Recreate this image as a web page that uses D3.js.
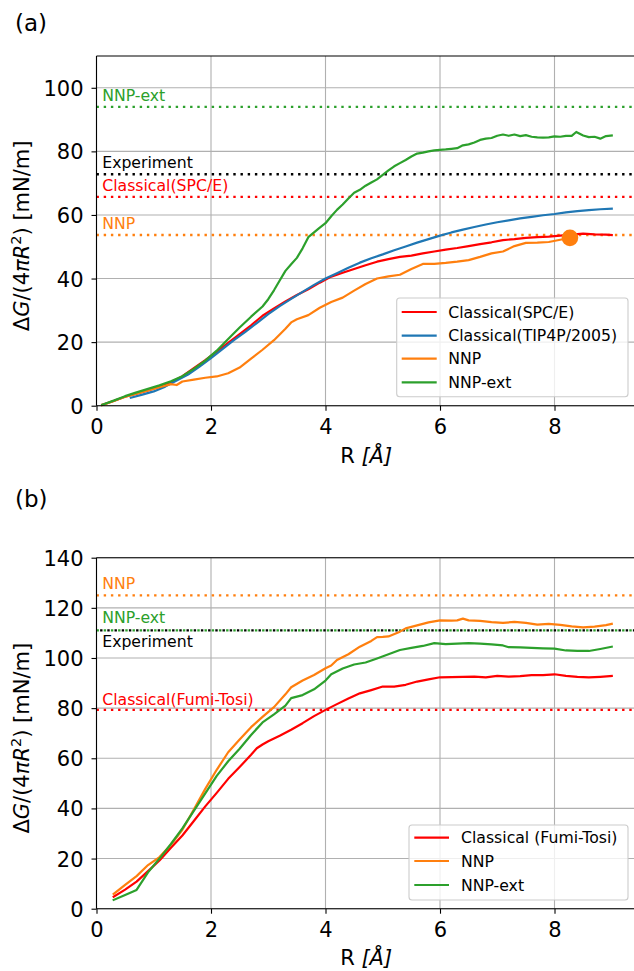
<!DOCTYPE html>
<html>
<head>
<meta charset="utf-8">
<script src="https://cdn.jsdelivr.net/npm/d3@7"></script>
<style>
  html, body { margin: 0; padding: 0; background: #fff; }
  svg { display: block; font-family: "DejaVu Sans", sans-serif; }
</style>
</head>
<body>
<svg id="fig" width="634" height="971"></svg>
<script>
// ---------- panel (a): water ----------
const spceR = [0.1,0.3,0.5,0.7,0.9,1.1,1.3,1.5,1.7,1.9,2.1,2.3,2.5,2.7,2.9,3.1,3.3,3.5,3.7,3.9,4.1,4.3,4.5,4.7,4.9,5.1,5.3,5.5,5.7,5.9,6.1,6.3,6.5,6.7,6.9,7.1,7.3,7.5,7.7,7.9,8.1,8.3,8.5,8.7,8.9,9.0];
const spceV = [0.3,1.5,2.8,3.8,4.8,6.0,7.3,9.3,11.8,14.3,17.0,19.8,22.5,25.3,28.3,30.6,32.8,34.8,36.6,38.7,40.6,41.8,43.0,44.2,45.3,46.1,46.8,47.2,47.9,48.5,49.1,49.6,50.2,50.8,51.4,52.1,52.4,52.8,53.0,53.2,53.5,53.8,54.1,53.9,53.8,53.7];

const tip4pR = [0.6,0.8,1.0,1.2,1.4,1.6,1.8,2.0,2.2,2.4,2.6,2.8,3.0,3.2,3.4,3.6,3.8,4.0,4.2,4.4,4.6,4.8,5.0,5.2,5.4,5.6,5.8,6.0,6.2,6.4,6.6,6.8,7.0,7.2,7.4,7.6,7.8,8.0,8.2,8.4,8.6,8.8,9.0];
const tip4pV = [2.5,3.5,4.5,6.0,7.9,9.8,12.3,15.0,17.8,20.6,23.2,26.0,28.8,31.3,33.6,35.8,38.0,40.0,41.7,43.4,45.0,46.4,47.6,48.9,50.1,51.3,52.4,53.5,54.5,55.4,56.2,57.0,57.7,58.3,58.9,59.4,59.9,60.3,60.8,61.2,61.5,61.8,62.0];

const nnpAR = [0.1,0.3,0.5,0.7,0.9,1.1,1.3,1.4,1.5,1.7,1.9,2.1,2.3,2.5,2.7,2.9,3.1,3.3,3.4,3.5,3.7,3.9,4.1,4.3,4.5,4.7,4.9,5.1,5.3,5.5,5.7,5.9,6.1,6.3,6.5,6.7,6.9,7.1,7.3,7.5,7.7,7.9,8.1,8.27];
const nnpAV = [0.2,1.5,2.8,3.8,4.8,5.8,6.8,6.5,7.6,8.2,8.8,9.2,10.2,12.0,14.8,17.6,20.6,24.2,26.2,27.2,28.5,30.8,32.6,34.0,36.2,38.3,40.0,40.7,41.2,43.0,44.6,44.6,44.9,45.3,45.8,46.8,47.9,48.5,50.2,51.2,51.3,51.5,52.2,52.8];
const nnpAMarker = [8.27, 52.8];

const nnpExtAR = [0.1,0.3,0.5,0.7,0.9,1.1,1.3,1.5,1.7,1.9,2.1,2.3,2.5,2.7,2.9,3.0,3.1,3.2,3.3,3.4,3.5,3.6,3.7,3.8,3.9,4.0,4.1,4.2,4.3,4.4,4.5,4.6,4.7,4.8,4.9,5.0,5.1,5.2,5.3,5.4,5.5,5.6,5.7,5.8,5.9,6.0,6.1,6.2,6.3,6.4,6.5,6.6,6.7,6.8,6.9,7.0,7.1,7.2,7.3,7.4,7.5,7.6,7.7,7.8,7.9,8.0,8.1,8.2,8.3,8.38,8.5,8.6,8.7,8.8,8.9,9.0];
const nnpExtAV = [0.3,1.6,3.0,4.2,5.3,6.4,7.7,9.3,11.6,14.2,17.3,21.0,24.6,28.0,31.2,33.5,36.3,39.4,42.4,44.5,46.5,49.5,53.0,54.5,56.0,57.4,59.6,61.6,63.3,65.2,67.0,67.9,69.2,70.2,71.2,72.6,74.0,75.3,76.3,77.3,78.4,79.3,79.6,80.0,80.3,80.5,80.6,80.8,81.0,81.9,82.2,82.8,83.6,84.0,84.2,84.9,85.3,84.9,85.3,84.8,85.1,84.6,84.4,84.3,84.4,84.7,84.6,84.9,84.9,86.1,85.0,84.5,84.6,84.0,84.8,85.0];

const refNamesA  = ["NNP-ext", "Experiment", "Classical(SPC/E)", "NNP"];
const refValuesA = [94.0, 72.8, 65.7, 53.7];
const legendNamesA = ["Classical(SPC/E)", "Classical(TIP4P/2005)", "NNP", "NNP-ext"];

// ---------- panel (b): salt ----------
const fumiR = [0.3,0.5,0.7,0.9,1.1,1.3,1.5,1.7,1.9,2.1,2.3,2.5,2.7,2.8,2.9,3.0,3.2,3.4,3.6,3.8,4.0,4.2,4.4,4.6,4.8,5.0,5.2,5.4,5.6,5.8,6.0,6.2,6.4,6.6,6.8,7.0,7.2,7.4,7.6,7.8,8.0,8.2,8.4,8.6,8.8,9.0];
const fumiV = [4.8,7.6,10.8,15.0,19.2,24.3,29.2,35.0,40.8,46.2,51.8,56.5,61.4,64.0,65.5,66.8,69.0,71.4,74.0,76.8,79.3,81.6,83.8,85.9,87.2,88.6,88.6,89.3,90.6,91.5,92.3,92.4,92.5,92.6,92.3,92.9,92.6,92.8,93.2,93.2,93.5,92.9,92.5,92.3,92.5,92.8];

const nnpBR = [0.3,0.5,0.7,0.9,1.1,1.3,1.5,1.7,1.9,2.1,2.3,2.5,2.7,2.9,3.1,3.3,3.4,3.6,3.8,4.0,4.1,4.2,4.4,4.6,4.8,4.9,5.0,5.1,5.3,5.4,5.6,5.8,6.0,6.2,6.3,6.4,6.5,6.7,6.9,7.1,7.3,7.5,7.7,7.9,8.1,8.3,8.5,8.7,8.9,9.0];
const nnpBV = [5.9,9.5,13.0,17.4,20.6,25.5,31.5,39.5,47.8,55.4,62.4,67.5,72.4,76.5,80.4,85.5,88.3,91.0,93.2,95.9,97.0,99.2,101.5,104.5,106.8,108.3,108.4,108.6,110.5,111.8,113.0,114.2,115.0,114.9,115.0,115.7,115.0,114.8,114.3,114.0,114.4,114.0,113.3,113.6,113.2,112.6,112.2,112.5,113.1,113.6];

const nnpExtBR = [0.3,0.5,0.7,0.9,1.1,1.3,1.5,1.7,1.9,2.1,2.3,2.5,2.7,2.9,3.1,3.3,3.4,3.6,3.8,4.0,4.1,4.3,4.5,4.7,4.9,5.1,5.3,5.5,5.7,5.9,6.1,6.3,6.5,6.7,6.9,7.1,7.2,7.4,7.6,7.8,8.0,8.2,8.4,8.6,8.8,9.0];
const nnpExtBV = [3.5,5.5,7.5,14.5,20.0,25.8,32.0,39.0,46.0,53.0,58.8,63.8,69.3,74.3,77.5,81.0,84.0,85.2,87.5,91.0,93.5,95.8,97.4,98.2,99.8,101.5,103.2,104.0,104.8,105.9,105.5,105.7,105.9,105.7,105.4,105.0,104.3,104.2,104.0,103.8,103.7,103.0,102.8,102.8,103.6,104.5];

const refNamesB  = ["NNP", "NNP-ext", "Experiment", "Classical(Fumi-Tosi)"];
const refValuesB = [125.0, 111.0, 111.0, 79.3];
const legendNamesB = ["Classical (Fumi-Tosi)", "NNP", "NNP-ext"];

const xTicks = [0, 2, 4, 6, 8];
const yTicksA = [0, 20, 40, 60, 80, 100];
const yTicksB = [0, 20, 40, 60, 80, 100, 120, 140];

// ---------- drawing ----------
const RED = "#ff0000", BLUE = "#1f77b4", ORANGE = "#ff7f0e", GREEN = "#2ca02c", BLACK = "#000000";
const svg = d3.select("#fig");
const FS_TICK = 21, FS_SMALL = 15.7;

function zip(xs, ys) { return xs.map((x, i) => [x, ys[i]]); }

function drawPanel(cfg) {
  const x = d3.scaleLinear().domain([0, 9.42]).range([96.5, 635.8]);
  const y = d3.scaleLinear().domain(cfg.yDomain).range([cfg.bottom, cfg.top]);
  const g = svg.append("g");

  // grid
  g.append("g").selectAll("line").data(xTicks).join("line")
    .attr("x1", d => x(d)).attr("x2", d => x(d))
    .attr("y1", cfg.top).attr("y2", cfg.bottom)
    .attr("stroke", "#b0b0b0").attr("stroke-width", 1.1);
  g.append("g").selectAll("line").data(cfg.yTicks).join("line")
    .attr("x1", x.range()[0]).attr("x2", x.range()[1])
    .attr("y1", d => y(d)).attr("y2", d => y(d))
    .attr("stroke", "#b0b0b0").attr("stroke-width", 1.1);

  // reference levels
  cfg.refs.forEach(r => {
    g.append("line")
      .attr("x1", x.range()[0]).attr("x2", x.range()[1])
      .attr("y1", y(r.value)).attr("y2", y(r.value))
      .attr("stroke", r.color).attr("stroke-width", 2.3)
      .attr("stroke-dasharray", "2.4,4.8")
      .attr("stroke-dashoffset", r.phase || 0);
  });
  cfg.refs.forEach(r => {
    g.append("text")
      .attr("x", x(0.1)).attr("y", y(r.value) + r.dy)
      .attr("fill", r.color).attr("font-size", FS_SMALL)
      .text(r.name);
  });

  // curves
  const line = d3.line().x(d => x(d[0])).y(d => y(d[1]));
  cfg.series.forEach(s => {
    g.append("path").datum(zip(s.r, s.v))
      .attr("d", line).attr("fill", "none")
      .attr("stroke", s.color).attr("stroke-width", 2.2)
      .attr("stroke-linejoin", "round").attr("stroke-linecap", "square");
  });
  if (cfg.marker) {
    g.append("circle")
      .attr("cx", x(cfg.marker.p[0])).attr("cy", y(cfg.marker.p[1]))
      .attr("r", 8.3).attr("fill", cfg.marker.color);
  }

  // spines
  g.append("line").attr("x1", x.range()[0]).attr("x2", x.range()[1])
    .attr("y1", cfg.top).attr("y2", cfg.top).attr("stroke", "#000").attr("stroke-width", 1.1);
  g.append("line").attr("x1", x.range()[0]).attr("x2", x.range()[1])
    .attr("y1", cfg.bottom).attr("y2", cfg.bottom).attr("stroke", "#000").attr("stroke-width", 1.1);
  g.append("line").attr("x1", x.range()[0]).attr("x2", x.range()[0])
    .attr("y1", cfg.top).attr("y2", cfg.bottom).attr("stroke", "#000").attr("stroke-width", 1.1);

  // axes
  const xa = g.append("g").attr("transform", `translate(0,${cfg.bottom})`)
    .call(d3.axisBottom(x).tickValues(xTicks).tickSize(5).tickPadding(8).tickFormat(d3.format("d")));
  xa.select(".domain").remove();
  xa.selectAll("text").attr("font-size", FS_TICK).attr("font-family", "DejaVu Sans").attr("fill", "#000");
  xa.selectAll("line").attr("stroke", "#000").attr("stroke-width", 1.1);

  const ya = g.append("g").attr("transform", `translate(${x.range()[0]},0)`)
    .call(d3.axisLeft(y).tickValues(cfg.yTicks).tickSize(5).tickPadding(8).tickFormat(d3.format("d")));
  ya.select(".domain").remove();
  ya.selectAll("text").attr("font-size", FS_TICK).attr("font-family", "DejaVu Sans").attr("fill", "#000").attr("dy", "0.36em");
  ya.selectAll("line").attr("stroke", "#000").attr("stroke-width", 1.1);

  // axis labels
  const xl = g.append("text").attr("x", (x.range()[0] + x.range()[1]) / 2).attr("y", cfg.xLabelY)
    .attr("text-anchor", "middle").attr("font-size", FS_TICK);
  xl.append("tspan").text("R ");
  xl.append("tspan").attr("font-style", "italic").text("[Å]");

  const yl = g.append("text")
    .attr("transform", `translate(29,${(cfg.top + cfg.bottom) / 2 + 5}) rotate(-90)`)
    .attr("text-anchor", "middle").attr("font-size", FS_TICK);
  yl.append("tspan").text("Δ");
  yl.append("tspan").attr("font-style", "italic").text("G");
  yl.append("tspan").text("/(4");
  yl.append("tspan").attr("font-style", "italic").text("πR");
  yl.append("tspan").attr("font-size", 14.5).attr("dy", "-0.55em").text("2");
  yl.append("tspan").attr("dy", "0.38em").text(") [mN/m]");

  // panel tag
  g.append("text").attr("x", 15).attr("y", cfg.tagY).attr("font-size", 23).text(cfg.tag);

  // legend
  const L = cfg.legend;
  const lg = g.append("g");
  lg.append("rect").attr("x", L.x0).attr("y", L.y0).attr("width", L.x1 - L.x0).attr("height", L.y1 - L.y0)
    .attr("rx", 3).attr("fill", "#fff").attr("fill-opacity", 0.8)
    .attr("stroke", "#cccccc").attr("stroke-width", 1.1);
  L.names.forEach((n, i) => {
    const yy = L.rows[i];
    lg.append("line").attr("x1", L.h0).attr("x2", L.h1).attr("y1", yy).attr("y2", yy)
      .attr("stroke", L.colors[i]).attr("stroke-width", 2.2);
    lg.append("text").attr("x", L.tx).attr("y", yy).attr("dy", "0.36em")
      .attr("font-size", FS_SMALL).text(n);
  });
}

const refColorsA = [GREEN, BLACK, RED, ORANGE];
drawPanel({
  tag: "(a)", tagY: 31,
  top: 56, bottom: 405.7, yDomain: [0, 110], yTicks: yTicksA, xLabelY: 463,
  refs: refNamesA.map((n, i) => ({ name: n, value: refValuesA[i], color: refColorsA[i], dy: -6 })),
  series: [
    { r: spceR, v: spceV, color: RED },
    { r: tip4pR, v: tip4pV, color: BLUE },
    { r: nnpAR, v: nnpAV, color: ORANGE },
    { r: nnpExtAR, v: nnpExtAV, color: GREEN }
  ],
  marker: { p: nnpAMarker, color: ORANGE },
  legend: { x0: 396.7, x1: 628, y0: 298, y1: 396.7, rows: [312, 335.7, 358.7, 382.3],
            h0: 401.7, h1: 436.7, tx: 448.3, names: legendNamesA, colors: [RED, BLUE, ORANGE, GREEN] }
});

const refColorsB = [ORANGE, GREEN, BLACK, RED];
const refDyB = [-6, -7, 17, -5];
drawPanel({
  tag: "(b)", tagY: 507,
  top: 557.7, bottom: 908.7, yDomain: [0, 140], yTicks: yTicksB, xLabelY: 965,
  refs: refNamesB.map((n, i) => ({ name: n, value: refValuesB[i], color: refColorsB[i], dy: refDyB[i], phase: i === 2 ? 3.6 : 0 })),
  series: [
    { r: fumiR, v: fumiV, color: RED },
    { r: nnpBR, v: nnpBV, color: ORANGE },
    { r: nnpExtBR, v: nnpExtBV, color: GREEN }
  ],
  legend: { x0: 409, x1: 628, y0: 825, y1: 900, rows: [837.7, 861, 885],
            h0: 414.3, h1: 449, tx: 461, names: legendNamesB, colors: [RED, ORANGE, GREEN] }
});
</script>
</body>
</html>
